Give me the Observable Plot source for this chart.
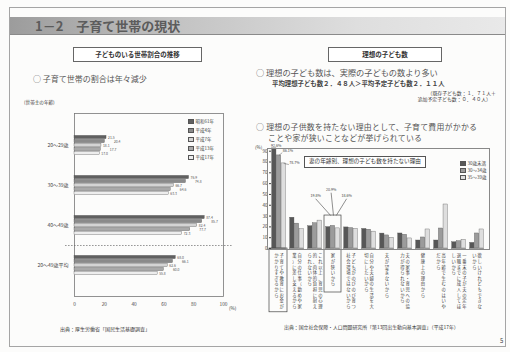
<!DOCTYPE html>
<html><head><meta charset="utf-8">
<script src="https://cdn.jsdelivr.net/npm/d3@7"></script>
<script src="https://cdn.jsdelivr.net/npm/@observablehq/plot@0.6"></script>
<style>
body{margin:0;width:510px;height:352px;background:#fcfcfb;font-family:"Noto Sans CJK JP",sans-serif;position:relative;overflow:hidden;color:#3a3a3a}
.abs{position:absolute;white-space:nowrap;line-height:1}
.box{position:absolute;border:1px solid #666;background:#fff;font-weight:bold;text-align:center;font-size:6.5px;line-height:13px;color:#333}
.lg{position:absolute;font-size:4.5px;line-height:1;white-space:nowrap;color:#444}
.sw{display:inline-block;width:4px;height:3px;border:0.5px solid #555;margin-right:1.5px;vertical-align:middle}
</style></head><body>
<script>
// ---- left chart data ----
const householdAgeGroups = ["20〜29歳", "30〜39歳", "40〜49歳", "20〜49歳平均"];
const surveyYears = ["昭和61年", "平成4年", "平成7年", "平成13年", "平成17年"];
const share20s = [21.5, 20.4, 18.1, 17.7, 17.0];
const share30s = [76.9, 74.8, 66.7, 64.6, 63.3];
const share40s = [87.4, 85.7, 82.4, 77.7, 72.3];
const shareAvg = [68.0, 66.1, 62.6, 60.0, 55.8];
const leftXTicks = [0, 20, 40, 60, 80, 100];

// ---- right chart data ----
const reasons = [
  "子育てや教育にお金がかかりすぎるから",
  "自分の仕事（勤めや家業）に差し支えるから",
  "これ以上、育児の心理的、肉体的負担に耐えられないから",
  "家が狭いから",
  "子どもがのびのび育つ社会環境ではないから",
  "自分や夫婦の生活を大切にしたいから",
  "夫が望まないから",
  "夫の家事・育児への協力が得られないから",
  "健康上の理由から",
  "高年齢で生むのはいやだから",
  "一番末の子が夫の定年退職までに成人してほしいから",
  "欲しいけれどもできないから"
];
const wifeAges = ["30歳未満", "30〜34歳", "35〜39歳"];
const valsUnder30 = [92.6, 28.5, 20.6, 19.8, 19.5, 18.1, 13.8, 13.9, 7.4, 7.4, 5.8, 5.2];
const vals30to34  = [86.1, 23.0, 23.4, 20.9, 18.9, 17.4, 12.1, 12.7, 10.2, 18.5, 6.8, 13.9];
const vals35to39  = [78.7, 17.8, 25.8, 18.6, 18.2, 15.6, 10.0, 9.3, 17.6, 40.7, 8.1, 17.6];
const rightYTicks = [0, 10, 20, 30, 40, 50, 60, 70, 80, 90];

const FONT = '"Noto Sans CJK JP", sans-serif';

function abs(html, css){const d=document.createElement("div");d.className="abs";d.innerHTML=html;Object.assign(d.style,css);document.body.appendChild(d);return d;}

// ---- slide chrome ----
abs("", {left:"9px",top:"7px",width:"495px",height:"338px",border:"1px solid #a5a5a5"});
abs("", {left:"10px",top:"17px",width:"495px",height:"17px",background:"linear-gradient(90deg,#9c9c9c 0%,#c4c4c4 35%,#dedede 70%,#e9e9e9 100%)",borderBottom:"1px solid #8a8a8a"});
abs("1－2　子育て世帯の現状", {left:"35px",top:"19px",fontSize:"13px",fontWeight:"bold",color:"#5c5c5c"});
const b1=document.createElement("div");b1.className="box";b1.textContent="子どものいる世帯割合の推移";Object.assign(b1.style,{left:"73px",top:"47px",width:"127px",height:"13px"});document.body.appendChild(b1);
const b2=document.createElement("div");b2.className="box";b2.textContent="理想の子ども数";Object.assign(b2.style,{left:"328px",top:"47px",width:"112px",height:"13px"});document.body.appendChild(b2);

abs("○&nbsp;子育て世帯の割合は年々減少", {left:"33px",top:"75px",fontSize:"8px",color:"#555"});
abs("(世帯主の年齢)", {left:"24px",top:"100px",fontSize:"4.6px"});

abs("○&nbsp;理想の子ども数は、実際の子どもの数より多い", {left:"256px",top:"68px",fontSize:"8.2px",color:"#555"});
abs("平均理想子ども数２．４８人＞平均予定子ども数２．１１人", {left:"272px",top:"81px",fontSize:"6.4px",fontWeight:"bold",color:"#444"});
abs("（既存子ども数：１．７１人＋", {right:"14px",top:"90.5px",fontSize:"4.9px"});
abs("追加予定子ども数：０．４０人）", {right:"19px",top:"96.5px",fontSize:"4.9px"});
abs("○&nbsp;理想の子供数を持たない理由として、子育て費用がかかる", {left:"256px",top:"123px",fontSize:"7.9px",letterSpacing:"0.25px",color:"#555"});
abs("ことや家が狭いことなどが挙げられている", {left:"268px",top:"134px",fontSize:"7.9px",letterSpacing:"0.25px",color:"#555"});
abs("(%)", {left:"255px",top:"144.5px",fontSize:"4.5px"});

abs("出典：厚生労働省「国民生活基礎調査」", {left:"60px",top:"326px",fontSize:"5px"});
abs("出典：国立社会保障・人口問題研究所「第13回出生動向基本調査」（平成17年）", {left:"284px",top:"325px",fontSize:"4.9px"});
abs("5", {left:"500px",top:"338px",fontSize:"6px"});

// ---- left chart ----
const leftSeries = [share20s, share30s, share40s, shareAvg];
const rowsL = [];
householdAgeGroups.forEach((g, gi) => surveyYears.forEach((yr, yi) =>
  rowsL.push({group: g, year: yr, yi, key: g + "|" + yr, value: leftSeries[gi][yi]})));
const yDomainL = ["p0", "p1"];
householdAgeGroups.forEach((g, gi) => {
  surveyYears.forEach(yr => yDomainL.push(g + "|" + yr));
  if (gi < householdAgeGroups.length - 1) for (let k = 0; k < 5; k++) yDomainL.push("gap" + gi + "-" + k);
});
yDomainL.push("p2", "p3");
const midKeys = householdAgeGroups.map(g => g + "|" + surveyYears[2]);
const fillsL = ["#606060", "#8a8a8a", "#d4d4d4", "#a9a9a9", "#ededed"];

const left = Plot.plot({
  width: 240, height: 205, marginLeft: 74, marginRight: 17, marginTop: 5, marginBottom: 17,
  style: {fontFamily: FONT, fontSize: "4.8px", background: "transparent", color: "#444", overflow: "visible"},
  x: {domain: [0, 100], ticks: leftXTicks, tickSize: 0, tickPadding: 6, label: null},
  y: {domain: yDomainL, padding: 0, axis: null},
  color: {domain: surveyYears, range: fillsL},
  marks: [
    Plot.frame({stroke: "#777", strokeWidth: 0.8}),
    Plot.barX(rowsL, {x: "value", y: "key", fill: "year", stroke: "#555", strokeWidth: 0.35, insetTop: 0.35, insetBottom: 0.35}),
    Plot.text(rowsL.filter(d => d.yi % 2 === 0), {x: "value", y: "key", text: d => d.value.toFixed(1), dx: 1.5, textAnchor: "start", fontSize: 3.4, fill: "#555"}),
    Plot.text(rowsL.filter(d => d.yi % 2 === 1), {x: "value", y: "key", text: d => d.value.toFixed(1), dx: 9, textAnchor: "start", fontSize: 3.4, fill: "#555"}),
    Plot.text(midKeys, {y: d => d, text: d => d.split("|")[0], frameAnchor: "left", textAnchor: "end", dx: -6, fontSize: 5, fill: "#444"}),
    Plot.ruleY(["gap2-2"], {x1: -6, x2: 106, stroke: "#666", strokeWidth: 0.7, strokeDasharray: "1.5,1.5"})
  ]
});
Object.assign(left.style, {position: "absolute", left: "0px", top: "108px"});
document.body.appendChild(left);
abs("(%)", {left:"229px",top:"306px",fontSize:"4.6px"});

// left legend
surveyYears.forEach((yr, i) => {
  const d = document.createElement("div"); d.className = "lg";
  d.innerHTML = `<span class="sw" style="background:${fillsL[i]}"></span>${yr}`;
  Object.assign(d.style, {left: "188px", top: (118.5 + i * 9) + "px"});
  document.body.appendChild(d);
});

// ---- right chart ----
const rightSeries = [valsUnder30, vals30to34, vals35to39];
const rowsR = [];
reasons.forEach((r, ri) => wifeAges.forEach((a, ai) =>
  rowsR.push({reason: r, age: a, ai, value: rightSeries[ai][ri]})));
const fillsR = ["#575757", "#9b9b9b", "#dedede"];

const perCol = 10;
const labelRows = [];
reasons.forEach(r => {
  const ch = Array.from(r);
  const n = Math.ceil(ch.length / perCol);
  for (let c = 0; c < n; c++) labelRows.push({reason: r, t: ch.slice(c * perCol, (c + 1) * perCol).join("\n"), off: ((n - 1) / 2 - c) * 5.4});
});
const offs = [...new Set(labelRows.map(d => d.off))];
const labelMarks = offs.map(o => Plot.text(labelRows.filter(d => d.off === o),
  {fx: "reason", text: "t", frameAnchor: "bottom", lineAnchor: "top", dy: 5, dx: o, fontSize: 4.3, lineHeight: 1.3, fill: "#444"}));

// annotations (labels of highlighted values)
const g1 = rowsR.filter(d => d.reason === reasons[0]);
const g4 = rowsR.filter(d => d.reason === reasons[3]);
const g1Pos = [[0.4, 1.2], [2.9, 2.6], [4.3, -1.0]];
const g4Pos = [[-2.7, 49], [0.6, 54.6], [3.9, 49]];
const annG1 = g1.map((d, i) => ({...d, lx: g1Pos[i][0], ly: d.value + g1Pos[i][1]}));
const annG4 = g4.map((d, i) => ({...d, lx: g4Pos[i][0], ly: g4Pos[i][1]}));
const pct = d => d.value.toFixed(1) + "%";

const right = Plot.plot({
  width: 258, height: 178, marginLeft: 19, marginRight: 18, marginTop: 8, marginBottom: 70,
  style: {fontFamily: FONT, fontSize: "4.6px", background: "transparent", color: "#444", overflow: "visible"},
  fx: {domain: reasons, paddingInner: 0.16, paddingOuter: 0.04, axis: null},
  x: {domain: [-0.6, 2.6], axis: null},
  y: {domain: [0, 92.5], ticks: rightYTicks, tickSize: 2, tickPadding: 2, label: null},
  color: {domain: wifeAges, range: fillsR},
  marks: [
    Plot.rectY(rowsR, {fx: "reason", x1: d => d.ai - 0.46, x2: d => d.ai + 0.46, y: "value", fill: "age", stroke: "#555", strokeWidth: 0.35}),
    Plot.ruleY([0], {stroke: "#666", strokeWidth: 0.6}),
    Plot.barY([{reason: reasons[0], a: 0, b: -59}], {fx: "reason", y1: "a", y2: "b", fill: "none", stroke: "#444", strokeWidth: 0.7, insetLeft: -2, insetRight: -1}),
    Plot.barY([{reason: reasons[3], a: 30.5, b: -40.7}], {fx: "reason", y1: "a", y2: "b", fill: "none", stroke: "#444", strokeWidth: 0.7, insetLeft: -1, insetRight: -1}),
    Plot.link(annG1.slice(1), {fx: "reason", x1: "ai", y1: "value", x2: d => d.lx - 1.2, y2: "ly", stroke: "#555", strokeWidth: 0.5}),
    Plot.text(annG1, {fx: "reason", x: "lx", y: "ly", text: pct, fontSize: 3.6, dy: -1.5, fill: "#444"}),
    Plot.link(annG4, {fx: "reason", x1: "lx", y1: d => d.ly - 3, x2: d => 0.5 + d.ai * 0.6, y2: 30.5, stroke: "#444", strokeWidth: 0.6}),
    Plot.text(annG4, {fx: "reason", x: "lx", y: "ly", text: pct, fontSize: 3.6, fill: "#444"}),
    ...labelMarks
  ]
});
Object.assign(right.style, {position: "absolute", left: "248px", top: "140px"});
document.body.appendChild(right);
abs("", {left:"267px",top:"148px",width:"221px",height:"100px",border:"0.8px solid #888",pointerEvents:"none"});

// right legend
abs("妻の年齢別、理想の子ども数を持たない理由", {left:"304px",top:"156px",fontSize:"5.6px",border:"0.8px solid #555",padding:"2px 4px",background:"#fff",color:"#333"});
wifeAges.forEach((a, i) => {
  const d = document.createElement("div"); d.className = "lg";
  d.innerHTML = `<span class="sw" style="background:${fillsR[i]}"></span>${a}`;
  Object.assign(d.style, {left: "460px", top: (161 + i * 7) + "px"});
  document.body.appendChild(d);
});
</script>
</body></html>
